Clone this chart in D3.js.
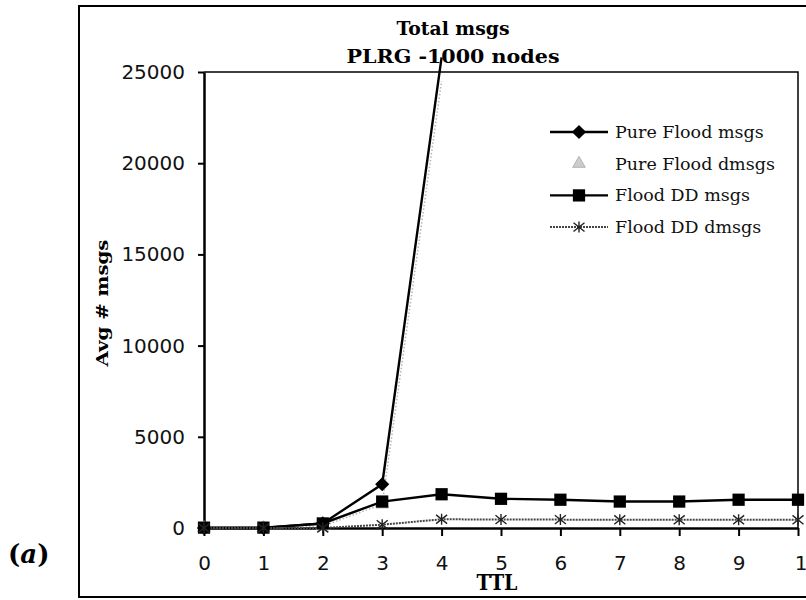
<!DOCTYPE html>
<html>
<head>
<meta charset="utf-8">
<script src="https://cdn.jsdelivr.net/npm/d3@7"></script>
<style>
    html, body { margin: 0; padding: 0; background: #fff; overflow: hidden; }
    svg { display: block; }
</style>
</head>
<body>
<svg id="chart" width="806" height="600"></svg>
<script>
// values
const ttl = [0, 1, 2, 3, 4, 5, 6, 7, 8, 9, 10];
const yTicks = [0, 5000, 10000, 15000, 20000, 25000];
const pureFloodMsgs = [0, 0, 250, 2400, 25800];
const pureFloodDmsgs = [0, 0, 100, 1300, 24500];
const floodDDMsgs = [20, 20, 250, 1450, 1850, 1600, 1550, 1450, 1450, 1550, 1550];
const floodDDDmsgs = [0, 0, 0, 180, 480, 460, 460, 450, 450, 450, 450];
const seriesNames = ["Pure Flood msgs", "Pure Flood dmsgs", "Flood DD msgs", "Flood DD dmsgs"];

const SERIF = "'DejaVu Serif', serif";
const SANS = "'DejaVu Sans', sans-serif";

const svg = d3.select("#chart");

const x = d3.scaleLinear().domain([0, 10]).range([204, 798]);
const y = d3.scaleLinear().domain([0, 25000]).range([528, 72]);

// outer frame, runs off the right edge
svg.append("rect")
    .attr("x", 79)
    .attr("y", 6)
    .attr("width", 760)
    .attr("height", 591)
    .attr("fill", "none")
    .attr("stroke", "#000")
    .attr("stroke-width", 2);

// plot border (top + right)
svg.append("path")
    .attr("d", `M${x(0)},${y(25000)}H${x(10)}V${y(0)}`)
    .attr("fill", "none")
    .attr("stroke", "#000")
    .attr("stroke-width", 1.5);

const yAxis = svg.append("g")
    .attr("transform", `translate(${x(0)},0)`)
    .call(d3.axisLeft(y).tickValues(yTicks).tickSize(6).tickSizeOuter(0).tickPadding(13).tickFormat(d3.format("d")));
yAxis.select(".domain").attr("stroke-width", 2.5);
yAxis.selectAll(".tick line").attr("stroke-width", 2);
yAxis.selectAll("text")
    .attr("font-family", SANS)
    .attr("font-size", 20)
    .attr("fill", "#111");

const xAxis = svg.append("g")
    .attr("transform", `translate(0,${y(0)})`)
    .call(d3.axisBottom(x).tickValues(ttl).tickSize(8).tickSizeOuter(0).tickPadding(20).tickFormat(d3.format("d")));
xAxis.select(".domain").attr("stroke-width", 2.5);
xAxis.selectAll(".tick line").attr("stroke-width", 2);
xAxis.selectAll("text")
    .attr("font-family", SANS)
    .attr("font-size", 20)
    .attr("fill", "#111")
    .attr("dx", d => (d === 10 ? 9 : 0));

const line = d3.line()
    .x((d, i) => x(ttl[i]))
    .y(d => y(d));

const star = size => {
    const p = d3.path();
    p.moveTo(-size, -size * 0.8);
    p.lineTo(size, size * 0.8);
    p.moveTo(-size, size * 0.8);
    p.lineTo(size, -size * 0.8);
    p.moveTo(0, -size);
    p.lineTo(0, size);
    return p.toString();
};

const styles = [
    { data: pureFloodMsgs, stroke: "#000", width: 2.4, dash: null, marker: "diamond" },
    { data: pureFloodDmsgs, stroke: "#b5b5b5", width: 1.5, dash: "1.5,2", marker: "triangle" },
    { data: floodDDMsgs, stroke: "#000", width: 2.4, dash: null, marker: "square" },
    { data: floodDDDmsgs, stroke: "#444", width: 2, dash: "2,1", marker: "star" }
];

const drawMarker = (sel, kind) => {
    if (kind === "diamond") {
        sel.append("path")
            .attr("d", d3.symbol(d3.symbolSquare, 100)())
            .attr("transform", "rotate(45)")
            .attr("fill", "#000");
    } else if (kind === "square") {
        sel.append("path")
            .attr("d", d3.symbol(d3.symbolSquare, 150)())
            .attr("fill", "#000");
    } else if (kind === "triangle") {
        sel.append("path")
            .attr("d", d3.symbol(d3.symbolTriangle, 70)())
            .attr("fill", "#ccc")
            .attr("stroke", "#aaa")
            .attr("stroke-width", 0.8);
    } else {
        sel.append("path")
            .attr("d", star(5.5))
            .attr("fill", "none")
            .attr("stroke", "#222")
            .attr("stroke-width", 1.4);
    }
};

// lines first, markers on top
styles.forEach(s => {
    svg.append("path")
        .datum(s.data)
        .attr("d", line)
        .attr("fill", "none")
        .attr("stroke", s.stroke)
        .attr("stroke-width", s.width)
        .attr("stroke-dasharray", s.dash);
});

styles.forEach(s => {
    // markers above the value axis are not shown
    svg.append("g")
        .selectAll("g")
        .data(s.data.map((v, i) => ({ v, t: ttl[i] })).filter(d => d.v <= 24000))
        .enter()
        .append("g")
        .attr("transform", d => `translate(${x(d.t)},${y(d.v)})`)
        .each(function() {
            drawMarker(d3.select(this), s.marker);
        });
});

// legend
const legend = svg.append("g").attr("transform", "translate(550,132)");
seriesNames.forEach((name, i) => {
    const s = styles[i];
    const row = legend.append("g").attr("transform", `translate(0,${i * 31.7})`);
    if (s.marker !== "triangle") {
        row.append("line")
            .attr("x1", 0)
            .attr("x2", 58)
            .attr("stroke", s.stroke)
            .attr("stroke-width", s.width)
            .attr("stroke-dasharray", s.dash);
    }
    drawMarker(row.append("g").attr("transform", "translate(29,0)"), s.marker);
    row.append("text")
        .attr("x", 65)
        .attr("y", 6)
        .attr("font-family", SERIF)
        .attr("font-size", 17.5)
        .attr("fill", "#111")
        .text(name);
});

// titles
svg.append("text")
    .attr("x", 453)
    .attr("y", 35)
    .attr("text-anchor", "middle")
    .attr("font-family", SERIF)
    .attr("font-weight", "bold")
    .attr("font-size", 19)
    .attr("textLength", 113)
    .attr("lengthAdjust", "spacingAndGlyphs")
    .text("Total msgs");

svg.append("text")
    .attr("x", 453)
    .attr("y", 63)
    .attr("text-anchor", "middle")
    .attr("font-family", SERIF)
    .attr("font-weight", "bold")
    .attr("font-size", 19)
    .attr("textLength", 213)
    .attr("lengthAdjust", "spacingAndGlyphs")
    .text("PLRG -1000 nodes");

svg.append("text")
    .attr("x", 497)
    .attr("y", 590)
    .attr("text-anchor", "middle")
    .attr("font-family", SERIF)
    .attr("font-weight", "bold")
    .attr("font-size", 22)
    .attr("textLength", 41)
    .attr("lengthAdjust", "spacingAndGlyphs")
    .text("TTL");

svg.append("text")
    .attr("transform", "translate(108,303) rotate(-90)")
    .attr("text-anchor", "middle")
    .attr("font-family", SERIF)
    .attr("font-weight", "bold")
    .attr("font-size", 17)
    .attr("textLength", 127)
    .attr("lengthAdjust", "spacingAndGlyphs")
    .text("Avg # msgs");

const tag = svg.append("text")
    .attr("x", 8)
    .attr("y", 563)
    .attr("font-family", SERIF)
    .attr("font-weight", "bold")
    .attr("font-size", 26);
tag.append("tspan").text("(");
tag.append("tspan").attr("font-style", "italic").text("a");
tag.append("tspan").text(")");
</script>
</body>
</html>
